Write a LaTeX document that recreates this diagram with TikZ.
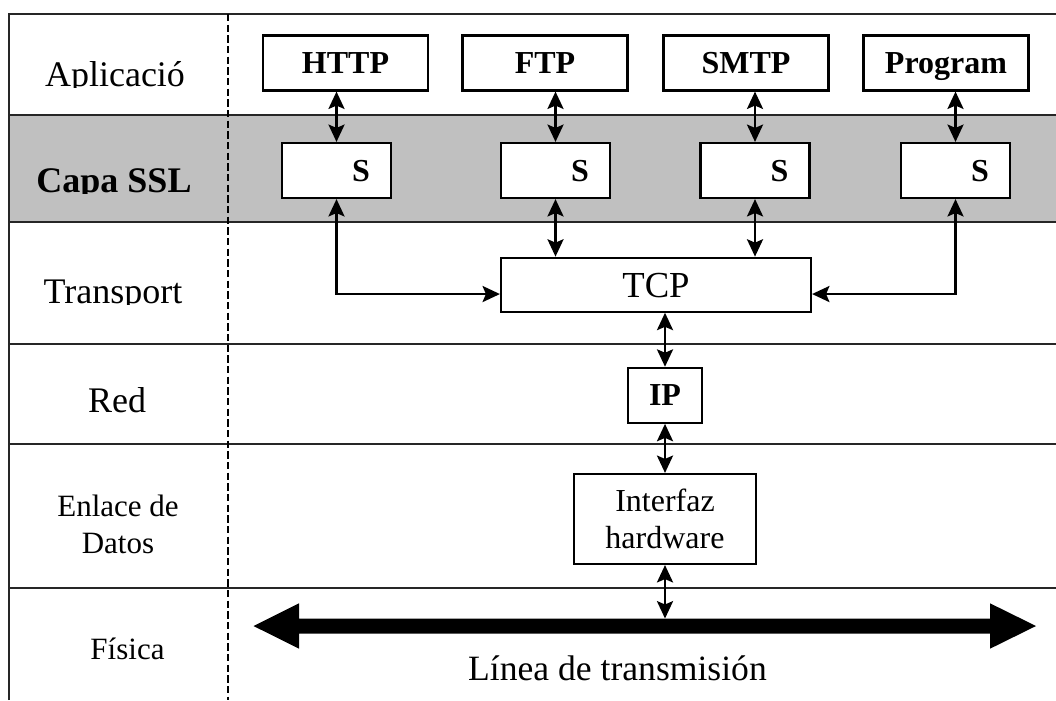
\documentclass[tikz,border=0pt]{standalone}
\usepackage{fontspec}
\setmainfont{Liberation Serif}
\usetikzlibrary{arrows.meta}
\definecolor{sslgray}{RGB}{192,192,192}
\tikzset{
  headtip/.tip={Stealth[length=13pt,width=12pt,inset=2.5pt]},
}
\begin{document}
\begin{tikzpicture}[x=0.75pt, y=-0.75pt,
  frameline/.style={line width=1.7pt, draw=black!85},
  lbl/.style={inner sep=0pt, font=\fontsize{27}{32}\selectfont},
  lblsm/.style={inner sep=0pt, align=center, font=\fontsize{23.25}{27.9}\selectfont},
  protobox/.style={draw, line width=1.6pt, fill=white, inner sep=0pt,
    minimum width=123.75pt, minimum height=41.25pt,
    text height=15.9pt, text depth=0pt, font=\bfseries\fontsize{24}{28}\selectfont},
  sslbox/.style={protobox, minimum width=81.75pt},
  plainbox/.style={draw, line width=1.6pt, fill=white, inner sep=0pt},
  link/.style={line width=2pt, headtip-headtip},
]
\useasboundingbox (0,0) rectangle (1056,700);

% shaded SSL layer
\fill[sslgray] (9,115) rectangle (1056,222);

% table frame and layer separators
\draw[frameline] (9,700) -- (9,14) -- (1056,14);
\foreach \yy in {115,222,344,444,588}
  \draw[frameline] (9,\yy) -- (1056,\yy);
\draw[line width=0.9pt, dash pattern=on 5.5pt off 2.5pt] (228,14) -- (228,700);

% layer names
\begin{scope}
  \clip (9,14) rectangle (228,87);
  \node[lbl, anchor=base] (lapp) at (115,86) {Aplicació};
\end{scope}
\begin{scope}
  \clip (9,115) rectangle (228,193);
  \node[lbl, anchor=base, font=\bfseries\fontsize{27}{32}\selectfont] (lssl) at (114,192) {Capa SSL};
\end{scope}
\begin{scope}
  \clip (9,222) rectangle (228,304);
  \node[lbl, anchor=base] (ltra) at (113,303) {Transport};
\end{scope}
\node[lbl, anchor=base] (lred) at (117,412.5) {Red};
\node[lblsm] (lenl) at (118,524) {Enlace de\\Datos};
\node[lblsm, anchor=base] (lfis) at (127.5,659.7) {Física};

% application protocols
\node[protobox] (http) at (345.5,63) {HTTP};
\node[protobox] (ftp)  at (545,63)   {FTP};
\node[protobox] (smtp) at (746,63)   {SMTP};
\node[protobox] (prog) at (946,63)   {Program};

% SSL boxes
\node[sslbox] (s1) at (336.5,170.5) {\hspace*{36.75pt}S};
\node[sslbox] (s2) at (555.5,170.5) {\hspace*{36.75pt}S};
\node[sslbox] (s3) at (755,170.5)   {\hspace*{36.75pt}S};
\node[sslbox] (s4) at (955.5,170.5) {\hspace*{36.75pt}S};

% transport, network and link
\node[plainbox, minimum width=232.5pt, minimum height=40.5pt,
      text height=18.5pt, text depth=-1.5pt,
      font=\fontsize{27.5}{32}\selectfont] (tcp) at (656,284.7) {TCP};
\node[protobox, minimum width=55pt] (ip) at (665,395.3) {IP};
\node[plainbox, minimum width=136.5pt, minimum height=67.5pt, align=center,
      font=\fontsize{24}{28.3}\selectfont] (hw) at (665,519) {Interfaz\\hardware};

% transmission line
\coordinate (bus) at (665,618.5);
\fill (253.5,626) -- (299,603.3) -- (299,618.5) -- (990,618.5) -- (990,603.3)
  -- (1036,626) -- (990,648.7) -- (990,633.5) -- (299,633.5) -- (299,648.7) -- cycle;
\node[inner sep=0pt, anchor=base, font=\fontsize{26.7}{32}\selectfont] (line) at (617.5,680) {Línea de transmisión};

% connections
\draw[link] (http.south -| s1.north) -- (s1.north);
\draw[link] (ftp.south -| s2.north) -- (s2.north);
\draw[link] (smtp.south -| s3.north) -- (s3.north);
\draw[link] (prog.south -| s4.north) -- (s4.north);
\draw[link] (s1.south) |- ([yshift=-7pt]tcp.west);
\draw[link] (s2.south) -- (s2.south |- tcp.north);
\draw[link] (s3.south) -- (s3.south |- tcp.north);
\draw[link] (s4.south) |- ([yshift=-7pt]tcp.east);
\draw[link] (ip.north |- tcp.south) -- (ip.north);
\draw[link] (ip.south) -- (hw.north);
\draw[link] (hw.south) -- (bus);
\end{tikzpicture}
\end{document}
